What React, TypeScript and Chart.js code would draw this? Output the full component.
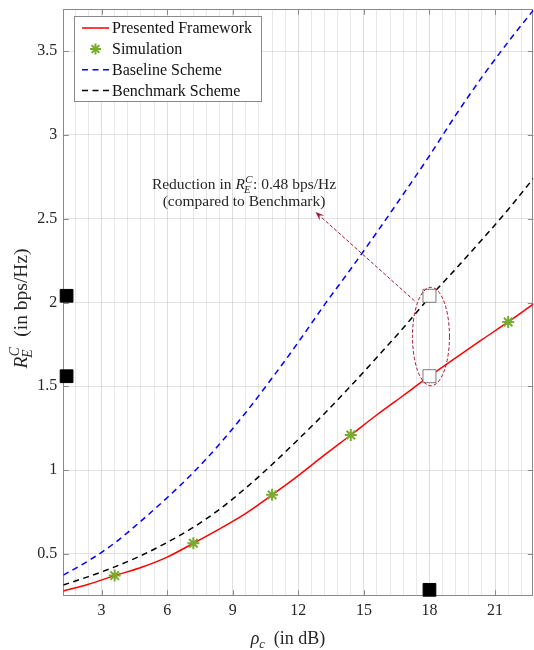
import React, { useEffect, useRef } from "react";
import { Chart, registerables } from "chart.js";

Chart.register(...registerables);

// Transmit SNR grid (dB) for the analytical curves
const snrDb = [1.25, 2.4, 3.6, 4.8, 6, 7.2, 8.4, 9.6, 10.8, 12, 13.2, 14.4, 15.6, 16.8, 18, 19.2, 20.4, 21.6, 22.75];
// Achievable common rate R_E^C (bps/Hz)
const presentedRate = [0.278, 0.318, 0.37, 0.418, 0.48, 0.563, 0.649, 0.742, 0.852, 0.967, 1.09, 1.209, 1.33, 1.445, 1.56, 1.67, 1.778, 1.884, 1.99];
const baselineRate = [0.373, 0.458, 0.565, 0.695, 0.835, 0.985, 1.155, 1.344, 1.549, 1.763, 1.987, 2.2, 2.42, 2.646, 2.876, 3.118, 3.345, 3.555, 3.745];
const benchmarkRate = [0.314, 0.364, 0.422, 0.489, 0.568, 0.658, 0.766, 0.893, 1.033, 1.183, 1.338, 1.502, 1.673, 1.848, 2.03, 2.2, 2.375, 2.555, 2.74];

// Monte-Carlo simulation points
const simSnr = [3.6, 7.2, 10.8, 14.4, 21.6];
const simRate = [0.37, 0.563, 0.852, 1.209, 1.884];

// Highlighted operating point
const gapSnr = 18;
const gapRates = [2.04, 1.56]; // benchmark, presented
const projX = 1.4;
const projY = 0.285;

// Axes
const xRange = [1.25, 22.75];
const yRange = [0.25, 3.75];
const xMajorTicks = [3, 6, 9, 12, 15, 18, 21];
const xMinorStep = 0.6;
const yTicks = [0.5, 1, 1.5, 2, 2.5, 3, 3.5];

const legendLabels = ["Presented Framework", "Simulation", "Baseline Scheme", "Benchmark Scheme"];

const SERIF = '"Liberation Serif", "Times New Roman", serif';
const TEXT = "#262626";
const AXIS = "#8a8a8a";
const RED = "#ff0000";
const BLUE = "#0000ff";
const GREEN = "#77ac30";
const MAROON = "#a2142f";
const DASH = [6, 4.5];

const isMajor = (v: number) => xMajorTicks.some((t) => Math.abs(t - v) < 1e-6);

const pts = (xs: number[], ys: number[]) => xs.map((x, i) => ({ x, y: ys[i] }));

// Draws R_E^C starting at x on the given baseline; returns its width
function rateSymbol(ctx: CanvasRenderingContext2D, x: number, base: number, size: number, draw: boolean) {
  ctx.font = `italic ${size}px ${SERIF}`;
  const wR = ctx.measureText("R").width;
  if (draw) ctx.fillText("R", x, base);
  const small = size * 0.7;
  ctx.font = `italic ${small}px ${SERIF}`;
  const wE = ctx.measureText("E").width;
  const wC = ctx.measureText("C").width;
  if (draw) {
    ctx.fillText("E", x + wR - size * 0.06, base + size * 0.26);
    ctx.fillText("C", x + wR + size * 0.02, base - size * 0.4);
  }
  return wR + Math.max(wE - size * 0.06, wC + size * 0.02) + size * 0.04;
}

function drawLegendStar(ctx: CanvasRenderingContext2D, x: number, y: number, r: number) {
  ctx.beginPath();
  for (let k = 0; k < 4; k++) {
    const a = (k * Math.PI) / 4;
    ctx.moveTo(x - r * Math.cos(a), y - r * Math.sin(a));
    ctx.lineTo(x + r * Math.cos(a), y + r * Math.sin(a));
  }
  ctx.stroke();
}

const decorPlugin = {
  id: "decor",
  beforeDatasetsDraw(chart: any) {
    const { ctx, chartArea: a, scales } = chart;
    ctx.save();
    ctx.strokeStyle = AXIS;
    ctx.lineWidth = 1;
    ctx.strokeRect(Math.round(a.left) + 0.5, Math.round(a.top) + 0.5, Math.round(a.right - a.left) - 1, Math.round(a.bottom - a.top));
    const tl = 5.5;
    ctx.beginPath();
    xMajorTicks.forEach((v) => {
      const px = Math.round(scales.x.getPixelForValue(v)) + 0.5;
      ctx.moveTo(px, a.bottom);
      ctx.lineTo(px, a.bottom - tl);
      ctx.moveTo(px, a.top);
      ctx.lineTo(px, a.top + tl);
    });
    yTicks.forEach((v) => {
      const py = Math.round(scales.y.getPixelForValue(v)) + 0.5;
      ctx.moveTo(a.left, py);
      ctx.lineTo(a.left + tl, py);
      ctx.moveTo(a.right, py);
      ctx.lineTo(a.right - tl, py);
    });
    ctx.stroke();
    ctx.restore();
  },
  afterDatasetsDraw(chart: any) {
    const { ctx, scales } = chart;
    const X = (v: number) => scales.x.getPixelForValue(v);
    const Y = (v: number) => scales.y.getPixelForValue(v);
    ctx.save();
    // ellipse around the two compared points
    const cx = X(gapSnr) + 1.5;
    const top = Y(gapRates[0]) - 8.5;
    const bot = Y(gapRates[1]) + 9.5;
    const cy = (top + bot) / 2;
    const ry = (bot - top) / 2;
    const rx = 18.5;
    ctx.strokeStyle = MAROON;
    ctx.lineWidth = 1;
    ctx.setLineDash([3.5, 2]);
    ctx.beginPath();
    ctx.ellipse(cx, cy, rx, ry, 0, 0, Math.PI * 2);
    ctx.stroke();
    // arrow towards the annotation
    const sx = cx - rx + 2;
    const sy = Y(gapRates[0]) + 5;
    const tx = 315.5;
    const ty = 212;
    const ang = Math.atan2(ty - sy, tx - sx);
    const hl = 9;
    ctx.beginPath();
    ctx.moveTo(sx, sy);
    ctx.lineTo(tx - hl * 0.7 * Math.cos(ang), ty - hl * 0.7 * Math.sin(ang));
    ctx.stroke();
    ctx.setLineDash([]);
    ctx.fillStyle = MAROON;
    ctx.beginPath();
    ctx.moveTo(tx, ty);
    ctx.lineTo(tx - hl * Math.cos(ang) + 3.5 * Math.sin(ang), ty - hl * Math.sin(ang) - 3.5 * Math.cos(ang));
    ctx.lineTo(tx - hl * 0.6 * Math.cos(ang), ty - hl * 0.6 * Math.sin(ang));
    ctx.lineTo(tx - hl * Math.cos(ang) - 3.5 * Math.sin(ang), ty - hl * Math.sin(ang) + 3.5 * Math.cos(ang));
    ctx.closePath();
    ctx.fill();

    // annotation text
    const size = 15.5;
    const reduction = (gapRates[0] - gapRates[1]).toFixed(2);
    const pre = "Reduction in ";
    const post = `: ${reduction} bps/Hz`;
    ctx.fillStyle = TEXT;
    ctx.textBaseline = "alphabetic";
    ctx.textAlign = "left";
    ctx.font = `${size}px ${SERIF}`;
    const wPre = ctx.measureText(pre).width;
    const wPost = ctx.measureText(post).width;
    const wSym = rateSymbol(ctx, 0, 0, size, false);
    const mid = 244;
    const x0 = mid - (wPre + wSym + wPost) / 2;
    const b1 = 189;
    ctx.font = `${size}px ${SERIF}`;
    ctx.fillText(pre, x0, b1);
    rateSymbol(ctx, x0 + wPre, b1, size, true);
    ctx.font = `${size}px ${SERIF}`;
    ctx.fillText(post, x0 + wPre + wSym, b1);
    ctx.textAlign = "center";
    ctx.fillText("(compared to Benchmark)", mid, 205.5);
    ctx.restore();
  },
  afterDraw(chart: any) {
    const { ctx, chartArea: a } = chart;
    ctx.save();
    // legend
    const bx = 74.5, by = 16.5, bw = 187, bh = 85;
    ctx.fillStyle = "#ffffff";
    ctx.fillRect(bx, by, bw, bh);
    ctx.strokeStyle = AXIS;
    ctx.lineWidth = 1;
    ctx.strokeRect(bx, by, bw, bh);
    const rows = [28, 49, 69.8, 90.5];
    const styles = [
      { color: RED, dash: [] as number[] },
      { color: GREEN, dash: null },
      { color: BLUE, dash: DASH },
      { color: "#000000", dash: DASH },
    ];
    rows.forEach((ry, i) => {
      const s = styles[i];
      ctx.strokeStyle = s.color;
      if (s.dash) {
        ctx.lineWidth = 1.5;
        ctx.setLineDash(s.dash);
        ctx.beginPath();
        ctx.moveTo(82, ry);
        ctx.lineTo(109, ry);
        ctx.stroke();
        ctx.setLineDash([]);
      } else {
        ctx.lineWidth = 2;
        drawLegendStar(ctx, 95.5, ry, 5.5);
      }
      ctx.fillStyle = "#111111";
      ctx.font = `16px ${SERIF}`;
      ctx.textAlign = "left";
      ctx.textBaseline = "alphabetic";
      ctx.fillText(legendLabels[i], 112, ry + 5);
    });

    // y-axis title
    const ys = 19.5;
    ctx.fillStyle = TEXT;
    ctx.translate(27, (a.top + a.bottom) / 2 + 6);
    ctx.rotate(-Math.PI / 2);
    const tail = "  (in bps/Hz)";
    ctx.font = `${ys}px ${SERIF}`;
    const wTail = ctx.measureText(tail).width;
    const wSym = rateSymbol(ctx, 0, 0, ys, false);
    const sx = -(wSym + wTail) / 2;
    rateSymbol(ctx, sx, 0, ys, true);
    ctx.font = `${ys}px ${SERIF}`;
    ctx.fillText(tail, sx + wSym, 0);
    ctx.setTransform(1, 0, 0, 1, 0, 0);

    // x-axis title
    const ls = 18;
    ctx.font = `italic ${ls}px ${SERIF}`;
    const wRho = ctx.measureText("\u03c1").width;
    ctx.font = `italic ${ls * 0.7}px ${SERIF}`;
    const wc = ctx.measureText("c").width;
    const xt = "  (in dB)";
    ctx.font = `${ls}px ${SERIF}`;
    const wxt = ctx.measureText(xt).width;
    const xb = 644;
    const x0 = 288 - (wRho + wc + wxt) / 2;
    ctx.font = `italic ${ls}px ${SERIF}`;
    ctx.fillText("\u03c1", x0, xb);
    ctx.font = `italic ${ls * 0.7}px ${SERIF}`;
    ctx.fillText("c", x0 + wRho, xb + ls * 0.22);
    ctx.font = `${ls}px ${SERIF}`;
    ctx.fillText(xt, x0 + wRho + wc, xb);
    ctx.restore();
  },
};

export default function App() {
  const ref = useRef<HTMLCanvasElement>(null);

  useEffect(() => {
    document.body.style.margin = "0";
    const canvas = ref.current;
    if (!canvas) return;

    const chart = new Chart(canvas, {
      type: "line",
      data: {
        datasets: [
          {
            label: "gap points",
            data: gapRates.map((y) => ({ x: gapSnr, y })),
            showLine: false,
            pointStyle: "rect",
            pointRadius: 9.2,
            backgroundColor: "#ffffff",
            borderColor: "#7a7a7a",
            borderWidth: 1,
            order: 0,
          },
          {
            label: "projections",
            data: [
              ...gapRates.map((y) => ({ x: projX, y })),
              { x: gapSnr, y: projY },
            ],
            showLine: false,
            pointStyle: "rect",
            pointRadius: 9,
            backgroundColor: "#000000",
            borderColor: "#000000",
            borderWidth: 1,
            clip: false,
            order: 0,
          },
          {
            label: legendLabels[1],
            data: pts(simSnr, simRate),
            showLine: false,
            pointStyle: "star",
            pointRadius: 6,
            borderColor: GREEN,
            backgroundColor: GREEN,
            borderWidth: 2,
            order: 1,
          },
          {
            label: legendLabels[0],
            data: pts(snrDb, presentedRate),
            borderColor: RED,
            borderWidth: 1.5,
            pointRadius: 0,
            cubicInterpolationMode: "monotone",
            order: 2,
          },
          {
            label: legendLabels[2],
            data: pts(snrDb, baselineRate),
            borderColor: BLUE,
            borderWidth: 1.5,
            borderDash: DASH,
            pointRadius: 0,
            cubicInterpolationMode: "monotone",
            order: 3,
          },
          {
            label: legendLabels[3],
            data: pts(snrDb, benchmarkRate),
            borderColor: "#000000",
            borderWidth: 1.5,
            borderDash: DASH,
            pointRadius: 0,
            cubicInterpolationMode: "monotone",
            order: 3,
          },
        ],
      },
      options: {
        responsive: false,
        animation: false,
        devicePixelRatio: 1,
        events: [],
        layout: { autoPadding: false, padding: { top: 9.3, right: 0.7, left: 0, bottom: 0 } },
        plugins: { legend: { display: false }, tooltip: { enabled: false } },
        scales: {
          x: {
            type: "linear",
            min: xRange[0],
            max: xRange[1],
            afterBuildTicks: (scale: any) => {
              const ticks = [];
              const k0 = Math.ceil(xRange[0] / xMinorStep);
              const k1 = Math.floor(xRange[1] / xMinorStep);
              for (let k = k0; k <= k1; k++) ticks.push({ value: Math.round(k * xMinorStep * 10) / 10 });
              scale.ticks = ticks;
            },
            afterFit: (scale: any) => {
              scale.height = 54.3;
              scale.paddingLeft = 0;
              scale.paddingRight = 0;
            },
            ticks: {
              autoSkip: false,
              maxRotation: 0,
              padding: 5.7,
              color: TEXT,
              font: { family: SERIF, size: 16 },
              callback: (v: any) => (isMajor(Number(v)) ? String(v) : ""),
            },
            grid: {
              drawTicks: false,
              color: (c: any) => (c.tick && isMajor(c.tick.value) ? "rgba(0,0,0,0.13)" : "rgba(0,0,0,0.085)"),
              lineWidth: 1,
            },
            border: { display: false },
          },
          y: {
            type: "linear",
            min: yRange[0],
            max: yRange[1],
            afterBuildTicks: (scale: any) => {
              scale.ticks = yTicks.map((value) => ({ value }));
            },
            afterFit: (scale: any) => {
              scale.width = 63.3;
              scale.paddingTop = 0;
              scale.paddingBottom = 0;
            },
            ticks: {
              padding: 6,
              color: TEXT,
              font: { family: SERIF, size: 16 },
              callback: (v: any) => String(v),
            },
            grid: { drawTicks: false, color: "rgba(0,0,0,0.11)", lineWidth: 1 },
            border: { display: false },
          },
        },
      },
      plugins: [decorPlugin],
    } as any);

    return () => chart.destroy();
  }, []);

  return (
    <div style={{ width: 534, height: 650, position: "relative" }}>
      <canvas ref={ref} width={534} height={650} style={{ display: "block", width: 534, height: 650 }} />
    </div>
  );
}
